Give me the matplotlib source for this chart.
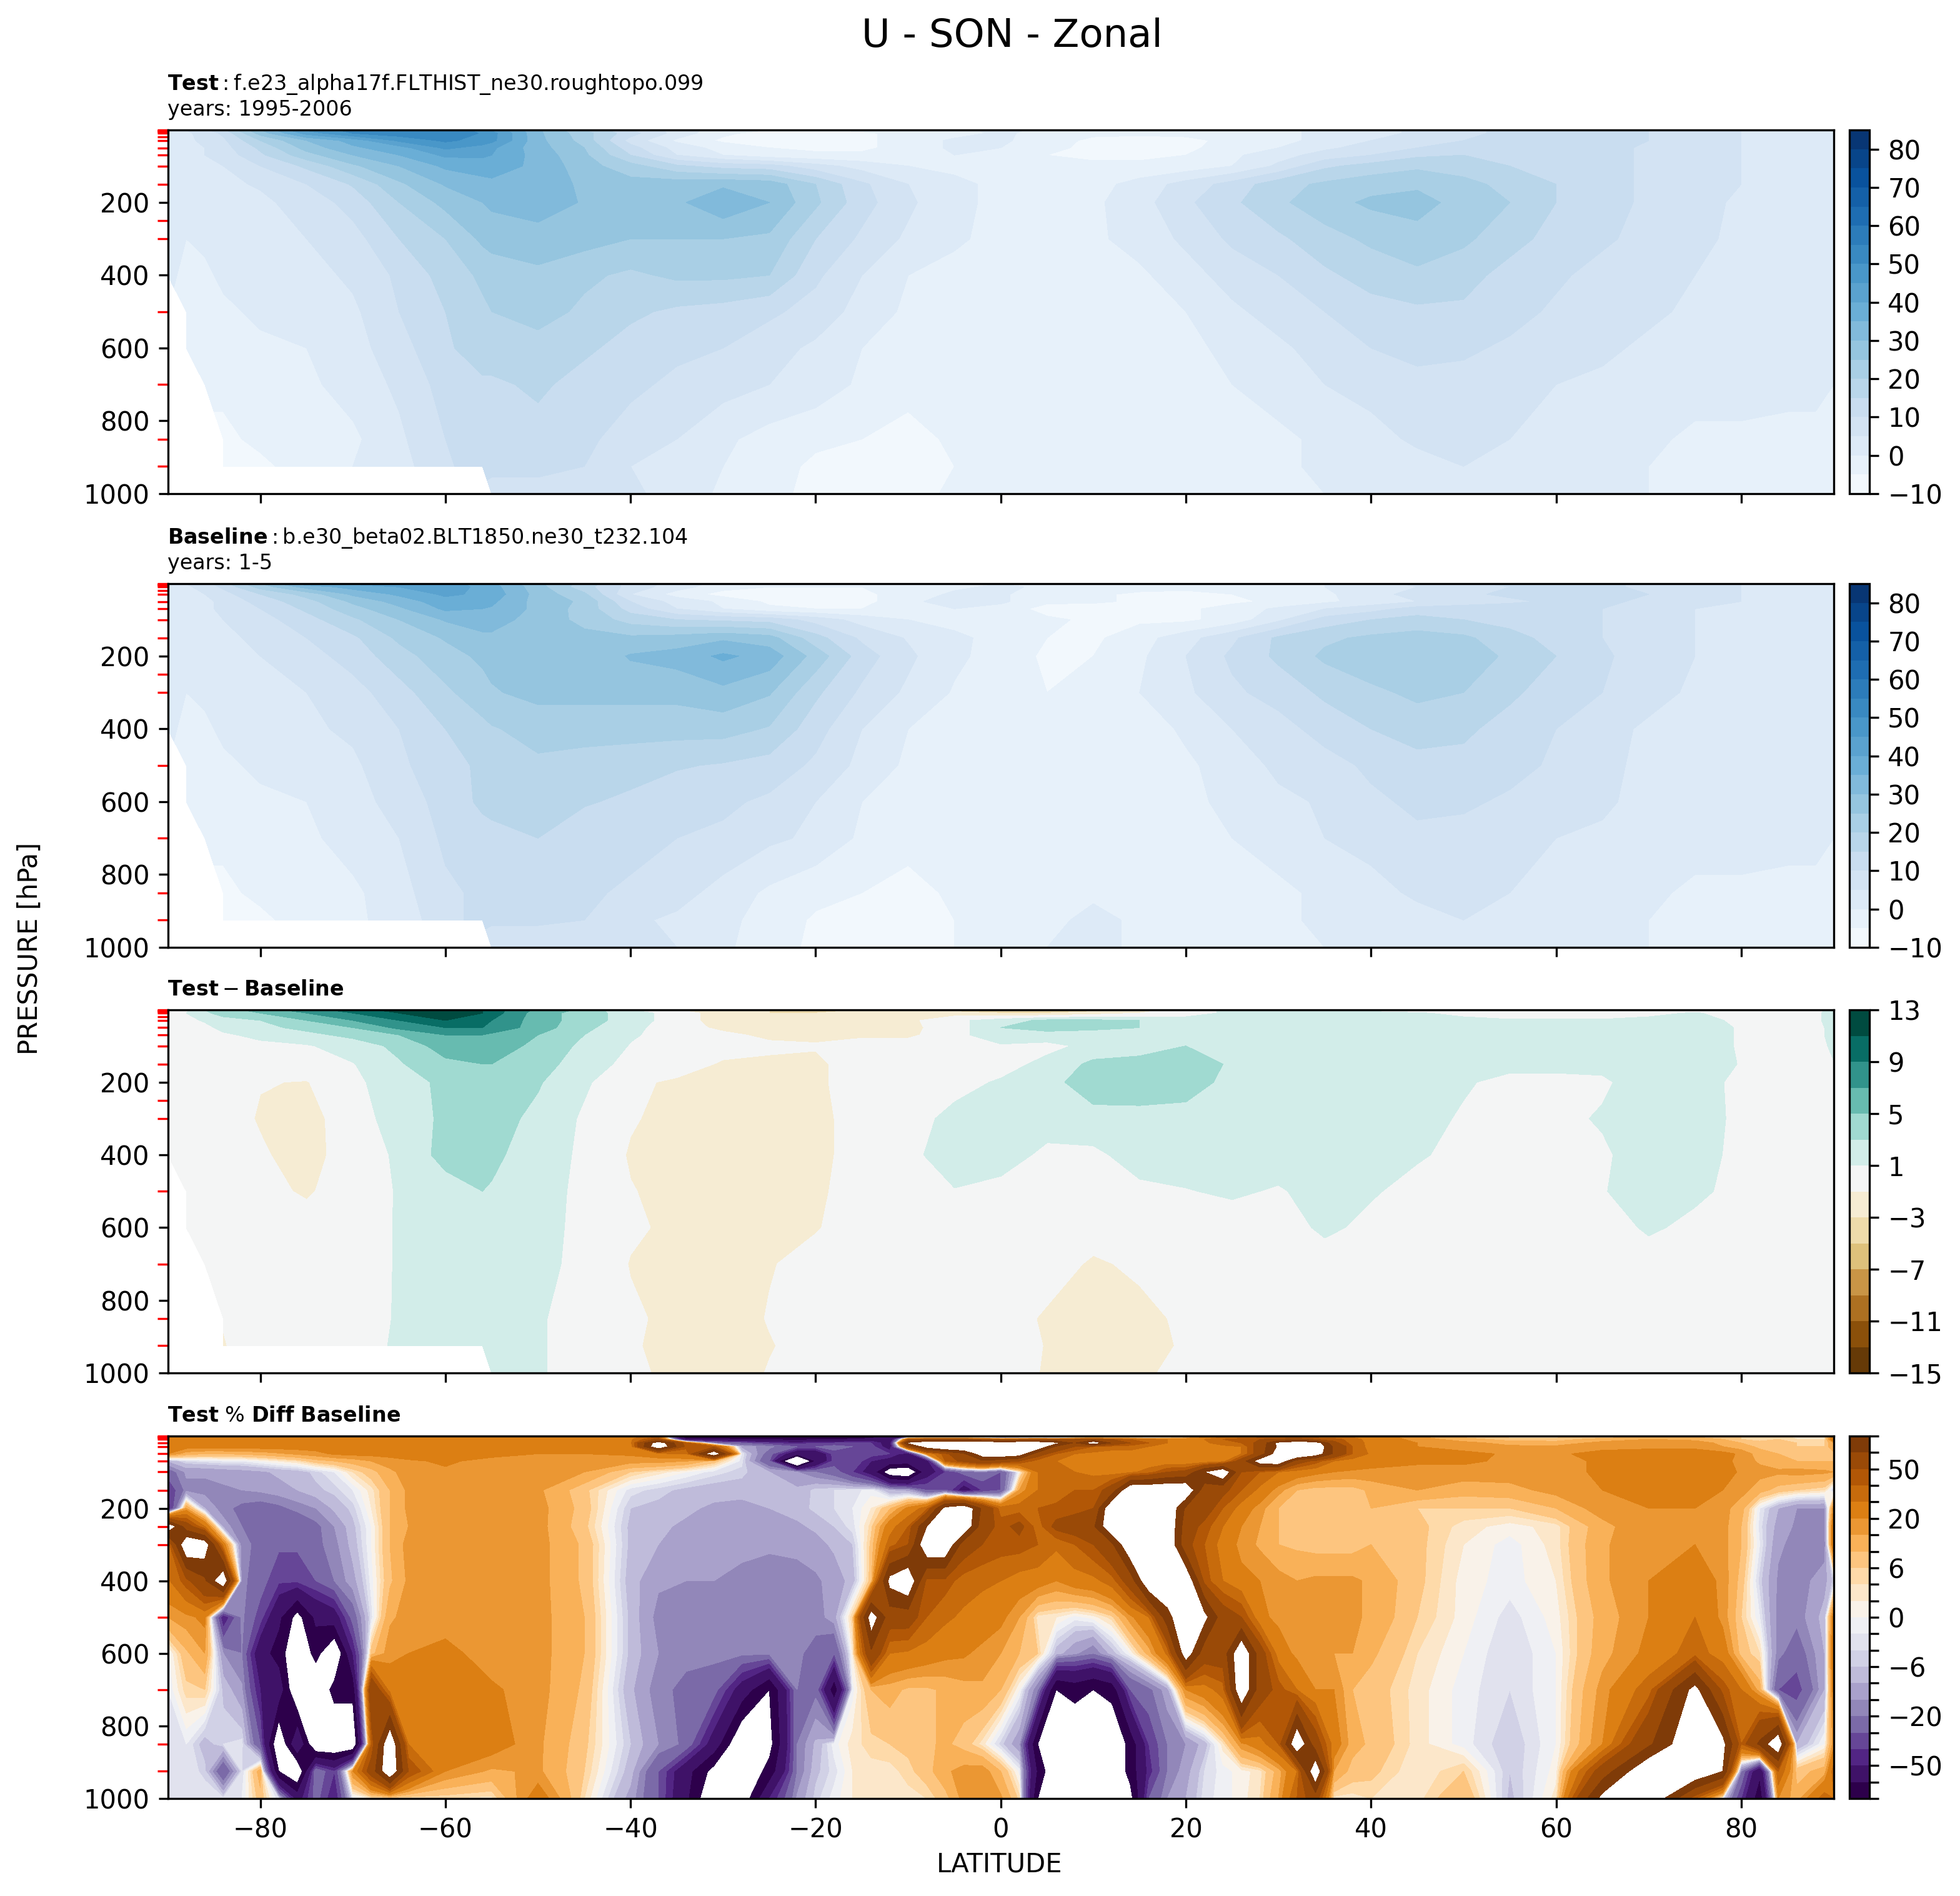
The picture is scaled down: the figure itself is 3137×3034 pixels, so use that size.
import numpy as np
import matplotlib
matplotlib.use("Agg")
import matplotlib.pyplot as plt
from matplotlib.colors import BoundaryNorm, TwoSlopeNorm, Normalize
from matplotlib.ticker import FixedLocator

lat = [-90,-88,-86,-84,-80,-75,-70,-65,-60,-56,
       -55,-50,-45,-40,-35,-30,-25,-20,-15,-10,-5,
       0,
       5,10,15,20,25,30,35,40,45,50,55,60,65,70,75,80,85,
       88,90]
lev = [1,10,30,50,70,100,150,200,300,400,500,600,700,850,925,1000]
# lowest valid pressure per latitude, below it the field is missing
surface = [450,650,750,950,950,950,950,950,950,950,
           1001,1001,1001,1001,1001,1001,1001,1001,1001,1001,1001,
           1001,
           1001,1001,1001,1001,1001,1001,1001,1001,1001,1001,1001,1001,1001,1001,1001,1001,1001,
           1001,1001]

test_u = [
 [2,5,9,14,30,46,52,54,54,48, 44,31,20,10,3,-3,-5,-5,-4,-3,-1, 1, -1,-2,-3,-3,-2,-1,1,3,6,9,11,12,12,10,8,5,3, 1,0],
 [2,4,7,11,27,42,50,53,54,49.5, 47,31,22,12,3,-4,-7,-7,-6,-3,-2, 1, -2,-4,-4,-4,-2,-1,1,3,6,9,11,12,12,10,8,5,3, 1,0],
 [2,4,6,9,20,30,37,46,51,48, 46.5,31.5,23,8,-1,-6,-7,-7,-6,-3,1, 1, -3,-6,-7,-6,-4,-1,1,5,8,10,12,13,13,10,7,5,3, 1,0],
 [2,3,5,8,16,27,34,38,46,43, 41,32,25,12,3,-2,-5,-6,-6,-3,1, 0, -4,-6,-6,-6,-3,0,4,7,10,12,13,13,12,9,7,5,3, 1,0],
 [2,3,5,7,14,23,30,35,41,41, 40,33,26,15,5,0,-3,-4,-4,-2,0, -1, -5,-6,-6,-5,-1,3,7,10,14,15,15,14,12,9,7,5,3, 2,0],
 [2,3,4,5,10,16,24,30,36,37, 37,34,27,22,16,13,12,7,3,0,-1, -2, -3,-4,-4,-3,0,6,14,17,19,17,15,14,12,9,7,5,3, 2,1],
 [2,2,3,4,5.5,10,15.5,24,30.5,33.5, 34,33,29,27,28,29,28,20,11,5,1, -1, -3,-2,2,7,12,18,21,23,24,22,18,15,12,9,7,5,3, 2,1],
 [1,2,2,3,4,7,12,20,26.5,30, 31,33,29.5,28,29,34,30,21,12,6,1, -1, -3,-1,3,9,14,19,23,26,27,23,20,15,12,9,7,4,3, 2,1],
 [1,0,1,2,3,5,8,15,20,26, 27,27.5,27,25,25,25,24,15,9,4,1, -2, -3,-1,2,6,11,14,18,21,23,21,17,13,11,8,6,4,3, 2,1],
 [1,-1,-1,1,2,3,6,11,17,21, 22,24,21,19,21,21,20,11,5,0,-2, -3, -3,-2,-1,3,7,10,14,17,19,17,13,11,8,6,5,3,2, 1,0],
 [-2,-2,-2,-1,1,3,4,10,15,19, 20,22,19,16,14,13,11,8,3,-1,-3, -4, -4,-3,-2,0,4,7,10,13,14,14,12,9,7,6,4,2,2, 1,0],
 [-3,-3,-3,-3,-1,0,3,8,14,18, 18,18,16,13,11,10,7,4,0,-3,-4, -4, -4,-4,-3,-1,1,4,7,10,11,11,9,7,6,4,3,2,2, 1,0],
 [-4,-4,-4,-4,-2,-1,2,6,12,14, 14,16,13,11,9,7,5,3,-1,-3,-4, -4, -5,-5,-4,-2,0,2,5,7,9,8,7,5,4,3,2,2,1, 1,0],
 [-6,-6,-6,-6,-4,-2,-1,4,10,12, 13,13,11,8,5,1,-2,-4,-5,-7,-4, -3, -3,-3,-3,-2,-2,-1,1,3,6,7,5,3,2,1,-1,-1,-1, -1,-1],
 [-8,-8,-8,-8,-6,-3,0,3,9,13, 12,12,10,5,2,0,-3,-6,-7,-7,-5, -3, -3,-3,-3,-3,-2,-1,1,2,3,5,3,2,1,0,-1,-2,-1, -1,-1],
 [-8,-8,-8,-8,-6,-3,0,3,5,7, 7,7,7,6,3,-1,-4,-6,-7,-7,-4, -3, -3,-3,-3,-3,-2,-1,0,1,2,3,2,2,1,0,-2,-2,-2, -1,-1],
]

base_u = [
 [2,5,8,13,25,38,41,42,42,38, 36,26,18,8,3,-2,-3,-3,-3,-2,-1, 0, -1,-2,-3,-4,-3,-2,0,3,6,9,11,12,11,9,7,5,3, 1,0],
 [2,4,7,11,22,32,37,40,42,39, 37,27,17,8,2,-3,-5,-5,-5,-3,-1, 1, -1,-2,-3,-4,-4,-3,0,2,5,8,10,11,11,9,7,5,3, 1,0],
 [2,3,5,8,15,22,31,36,41,39, 38,28,21,5,-2,-7,-7,-7,-6,-3,1, 1, -4,-4,-6,-6,-5,-3,-1,3,7,9,11,12,12,10,7,5,3, 1,0],
 [2,3,4,6,12,18,26,32,38,37, 36,28,24,10,3,-1,-6,-7,-7,-1,2, 1, -4,-4,-6,-7,-6,-4,-1,2,5,7,9,11,11,9,7,5,3, 1,0],
 [2,3,4,6,10,16,23,29,36,35, 34.5,28.5,23,13,5,0,-4,-5,-5,-2,0, -2, -7,-8,-7,-6,-3,1,5,8,12,13,13,12,10,7,5,4,3, 2,0],
 [2,3,4,5,8,13,19,25,30.5,32, 32,28,23.5,18,15,14,13,8,3,0,-1.5, -3, -4,-6,-6,-6,-3,4,12,15,17,15,13,12,10,7,5,4,3, 2,1],
 [2,2,3,4,6,10,14,21,25.5,29, 29,27,26.5,26,27,29,27,17,9,4.5,1, -1.5, -5,-6,-2,3,9,16,19,21,22,21,17,13,10,7,5,4,3, 2,1],
 [1,2,2,3,5,8,12,18,23,26, 26.5,26,26,30.5,32,36,33,23,12.5,6,1, -2, -6,-5,-1,5,11,16,21,23,24,23,19,15,11,7,5,3,3, 2,1],
 [1,0,1,2,3,5,8,13,19,23, 24.5,26.5,26.5,26.5,26.5,28.5,25.5,16,9,4,-0.5, -3, -5,-4,0,4,9,12,16,19,21,20,16,12.5,10,7,4,3,3, 2,1],
 [1,-1,-1,1,2,4,6,10,15,18.5, 19.5,22,22,22,22,22,19.5,12,5,0,-3.5, -4, -3,-3,-3,1,5,8,12,15,17.5,16,13,10,7,4,3,3,2, 1,0],
 [-2,-2,-2,-1,1,3,4,9,13,16, 17,19,18,17,15.5,14.5,13,9,3.5,-1,-4, -4.5, -4,-3,-2,-1,2.5,6,8,11,13,13.5,12,9,6,4,3,2,2, 1,0],
 [-3,-3,-3,-3,-1,0,3,7,12,16, 17,17,15.5,14,12,11,9,5,0,-3,-4, -4, -4,-4,-3,-1,1,4,5.5,9,11,11,9,7,6,3,3,2,2, 1,0],
 [-4,-4,-4,-4,-2,-1,2,5,11,13, 13,15,12,12,10,9,6,4,-1,-3,-4, -4, -5,-4,-3,-2,0,2,5,7,9,8,7,5,4,3,2,2,1, 1,0],
 [-6,-6,-6,-6,-4,-2,-1,3,9,11, 11.5,12,11,9,7,3,-1,-4,-5,-7,-4, -3, -1.5,-1,-1.5,-1.5,-2,-1,1,3,6,7,5,3,2,1,-1,-1,-1, -1,-1],
 [-8,-8,-8,-8,-6,-3,-1,2,8,12, 11,11,10,6,4,2,-3,-5.5,-7,-7,-5, -3, -1.5,1.5,-1,-2,-2,-1,1,2,3,5,3,2,1,0,-1,-2,-1, -1,-1],
 [-8,-8,-8,-8,-6,-3,-1,2,5,6, 6,6,6,7,5,1,-3,-6,-7,-7,-5, -3, 0,1.5,-1,-2,-2,-1,0,1,2,3,2,2,1,0,-2,-2,-2, -1,-1],
]

diff_u = [
 [0,.5,3,4,6,8,10,12,13,11, 10,6.5,4.5,1,-1,-2,-3,-3,-3,-3,-4, -4, -5,-4,-2,0,1.5,2,1.5,.5,0,0,0,0,0,0,0,0,0, 0,2],
 [0,1,2.5,4,5,7,9,11,12,11, 10,6,4,2,0,-2,-3,-3,-2.5,-1.5,-2, -3, -3,-2,-1,0,1.5,1.5,1.5,1.5,1.2,.5,0,0,0,.5,1.2,0,0, 0,3],
 [0,.5,1.2,2,3,5,7,9,11,10, 9,6,4,2,0,-2,-2,-2,-2,-1.5,.5, 2, 3.5,3.5,3,2,2,2,2,2,1.5,1.5,1.2,1.2,1.2,1.5,1.5,.7,0, 0,3],
 [0,0,.5,1.5,2.5,3.5,5,7.5,9,9, 8.5,6,3.5,1.5,0,-1.5,-1.5,-1.5,-1.5,-1.5,0, 3, 4,3.5,3,2,2,2,2,2,2,2,2,2,2,2,2,.8,0, 0,2],
 [0,0,.5,.7,1.5,2.5,3.5,5,7,7, 6.5,5,3,1.2,.3,-.5,-1.5,-1.5,-1.5,-1.5,.5, 2, 2,2,2,2,2,2,2,2,2,2,2,2,2,2,2,.8,0, 0,2],
 [0,0,0,.2,.5,.8,2,3.5,6,6, 6,4.5,2.5,.9,0,0,-.5,-.8,.2,.2,.5, .8, .5,1.5,2,3,2.5,2,2,2,2,2,2,2,2,2,2,.8,0, 0,1.5],
 [0,0,0,0,0,.2,.9,2.8,4.5,5, 5,4,1.8,.5,.2,-1.3,-1.5,-1.5,.3,.2,.2, .3, 1.5,3.5,3.8,3.8,2.8,2,2,2,2,1.5,1.5,1.5,1.5,2,2,.9,0, 0,.9],
 [0,0,0,0,-.9,-1.1,.6,2,3.5,3.7, 3.7,3.2,1.3,-.5,-1.4,-1.5,-1.5,-1.5,.3,.3,.4, 1.2, 2.5,3.8,3.9,3.6,2.6,2,2,2,2,1.2,.5,.5,.7,2,1.5,.7,0, 0,.5],
 [0,0,0,0,-1.2,-2,.5,1.5,3.5,3.8, 3.8,2.5,.7,-.8,-1.7,-1.9,-1.9,-1.8,.2,.3,1.5, 2, 2,2.5,2.5,2.5,2,2,2,2,1.6,.8,.5,.5,1.2,2,2,.5,0, 0,0],
 [0,0,0,0,-.7,-2,.3,1.2,3.8,3.8, 3.5,1.8,.7,-1.2,-1.7,-1.8,-1.9,-1.8,.2,.5,2, 2, .5,.5,2,2,2,2,2,1.6,1.2,.5,.5,.5,.7,2,2,.3,0, 0,0],
 [0,0,-.1,-.2,-.3,-1.3,.3,1.1,2,3, 2.8,1.5,.7,-.9,-1.6,-1.8,-1.9,-1.4,0,.3,.9, .3, .3,.3,.5,.9,1.3,.8,1.8,1.2,.4,.2,.2,.5,.9,1.8,1.4,.4,0, 0,0],
 [0,0,0,0,0,0,.4,1.1,1.5,1.5, 1.5,1.4,.7,-.7,-1.4,-1.6,-1.8,-1.1,-.3,0,0, 0, 0,0,0,0,0,0,1.4,.5,0,0,0,0,0,1.3,.5,0,0, 0,0],
 [0,0,0,0,0,0,.4,1.1,1.4,1.4, 1.4,1.4,.6,-1.1,-1.4,-1.6,-1.1,-.5,-.2,0,0, 0, 0,-1.3,-.6,-.1,0,0,0,0,0,0,0,0,0,0,0,0,0, 0,0],
 [0,0,0,-.9,-.3,0,.5,1.1,1.4,1.4, 1.4,1.2,.2,-.7,-1.5,-1.8,-.9,-.3,0,0,0, 0, -1.3,-2,-1.6,-.6,0,0,0,0,0,0,0,0,0,0,0,0,0, 0,0],
 [0,0,0,-1.1,-.1,0,.7,1.1,1.2,1.2, 1.2,1.2,.2,-.8,-1.6,-1.8,-1.1,-.4,0,0,0, 0, -1.1,-1.7,-1.6,-.8,0,0,0,0,0,0,0,0,0,0,0,0,0, 0,0],
 [0,0,0,0,0,0,0,0,0,0, 1.3,1.2,.2,-.6,-1.5,-1.8,-.9,-.3,0,0,0, 0, -1.2,-1.7,-1.3,-.5,0,0,0,0,0,0,0,0,0,0,0,0,0, 0,0],
]

pct_lat = [-90,-88,-86,-84,-82,-80,-78,-76,-74,-72,-70,-68,-66,-64,
           -60,-55,-50,-45,-40,-37,-34,-31,-28,-25,-22,-20,-18,-16,-14,-12,-10,-8,-6,-4,-2,
           0,
           2,4,6,8,10,12,14,16,18,20,22,24,26,28,30,32,34,36,38,40,
           45,50,55,60,65,70,75,
           78,80,82,84,86,89,90]
pct_lev = [1,10,20,30,50,70,100,150,200,250,300,400,500,600,700,850,925,1000]
pct_diff = [
 [25,25,25,25,25,25,25,25,25,25,25,25,25,25,
  25,25,25,25,27,35,-110,-120,-120,-120,-120,-120,-120,-120,-110,-60,-50,-60,-60,-60,-60, -70,
  -70,-70,-70,-60,-50,-50,-40,-40,-30,-15,10,25,28,28,28,28,28,27,26,25, 15,8,3,3,6,8,8, 10,6,5,5,3,3,25],
 [25,25,25,25,25,25,25,25,25,25,25,25,25,25,
  25,25,25,26,28,55,-70,-70,-75,-80,-80,-80,-80,-70,-60,-70,45,60,60,60,50, 40,
  45,50,45,55,60,50,40,35,30,30,30,40,45,50,55,60,50,45,35,25, 18,12,8,8,12,15,14, 10,6,5,6,4,4,30],
 [25,25,25,25,25,25,25,25,25,25,25,25,25,25,
  24,24,24,25,27,120,40,-20,-30,-40,-45,-40,-40,-35,-40,-60,110,130,130,130,130, 130,
  130,130,110,70,130,70,50,40,30,28,28,35,40,55,110,130,120,55,35,27, 20,17,13,12,17,18,17, 14,10,7,8,6,6,15],
 [23,23,23,23,23,23,23,23,23,23,23,23,23,23,
  23,23,23,23,23,130,45,45,-12,-18,-30,-30,-25,-30,-35,-60,60,120,140,140,140, 140,
  140,130,70,50,40,35,35,30,27,27,27,27,30,60,105,130,130,70,40,25, 20,17,16,16,18,18,18, 15,12,9,9,6,6,15],
 [20,12,10,10,11,12,14,16,18,21,22,22,23,24,
  25,22,20,20,21,24,30,130,-2,-25,-70,-70,-35,-30,-35,-40,-60,20,45,70,120, 130,
  120,60,40,30,27,25,25,23,23,22,22,23,30,60,120,150,120,70,40,28, 23,22,19,19,22,24,24, 22,19,12,10,8,8,8],
 [-10,-4,-3,-2,-2,0,2,4,8,10,12,15,17,19,
  21,18,17,17,17,17,15,8,-3,-30,-170,-75,-35,-30,-50,-60,-60,-60,40,55,70, 60,
  50,35,30,27,25,24,24,22,22,20,20,25,60,120,130,60,45,30,25,22, 21,21,19,18,21,24,24, 22,18,14,12,10,10,10],
 [-25,-14,-14,-13,-12,-11,-9,-8,-5,-2,4,8,14,17,
  19,17,17,15,6,3,0,-3,-5,-10,-15,-20,-25,-40,-60,-120,-130,-60,-40,-25,-20, -30,
  0,30,35,30,27,25,27,35,50,55,100,130,50,40,30,25,22,20,19,19, 18,18,18,18,21,26,25, 23,19,17,16,17,16,15],
 [-40,-17,-17,-16,-15,-14,-12,-10,-7,-5,-2,3,10,16,
  18,17,16,7,-3,-5,-7,-8,-8,-9,-9,-5,-4,-3,-1,-10,-12,-30,-30,-60,-40, -30,
  15,30,35,40,40,60,130,130,130,130,60,55,40,27,17,10,8,8,8,11, 15,12,13,17,20,23,22, 20,17,12,8,6,4,-5],
 [-50,15,-10,-18,-22,-24,-22,-18,-15,-9,-5,2,10,16,
  18,18,17,8,-6,-7,-9,-11,-12,-10,-8,-5,-4,-2,2,9,22,35,110,130,70, 35,
  35,40,42,45,50,130,130,130,130,70,60,40,25,17,10,8,8,7,9,10, 6,6,6,10,18,20,20, 17,12,-2,-10,-15,-15,20],
 [130,60,30,-12,-20,-22,-25,-28,-22,-15,-7,0,10,15,
  20,17,17,7,-7,-9,-11,-12,-14,-14,-11,-9,-6,-3,5,25,40,100,130,130,60, 45,
  55,35,55,60,70,130,130,130,130,60,45,30,20,15,10,9,7,7,8,10, 7,3,1,3,13,20,18, 17,10,-3,-12,-16,-16,30],
 [30,130,120,25,-18,-22,-28,-28,-22,-17,-8,0,10,17,
  18,17,17,9,-7,-10,-12,-13,-14,-14,-13,-12,-9,-6,7,35,50,130,130,60,50, 45,
  45,40,32,40,50,70,130,130,130,55,40,25,18,14,10,9,8,8,8,10, 7,2,-1,3,14,20,20, 17,10,-2,-14,-17,-18,30],
 [28,45,70,130,-18,-25,-38,-38,-30,-20,-12,-1,9,16,
  17,17,17,9,-8,-14,-15,-15,-16,-18,-18,-16,-13,-8,8,110,130,45,45,35,32, 30,
  25,24,20,25,27,35,60,130,130,130,45,30,22,20,17,15,16,16,16,14, 7,1,-1,2,14,20,26, 18,8,-5,-16,-18,-12,-5],
 [15,18,22,-50,-18,-35,-70,-110,-70,-60,-25,-3,14,17,
  17,17,17,10,-7,-17,-18,-18,-18,-18,-19,-18,-12,6,120,60,60,40,32,28,25, 22,
  15,3,2,-1,1,5,18,30,90,130,110,60,50,22,18,17,17,17,16,14, 6,1,-3,1,12,20,30, 18,6,-2,-17,-18,-8,25],
 [-1,9,15,-15,-20,-65,-85,-130,-90,-130,-50,8,18,20,
  22,17,17,10,-7,-15,-18,-18,-18,-18,-19,-22,-30,2,70,30,28,25,22,21,18, 15,
  10,6,-8,-14,-20,-8,0,12,32,120,60,60,130,60,25,18,17,15,15,11, 4,0,-4,0,13,22,35, 25,8,4,-18,-25,-10,30],
 [-2,5,6,-7,-14,-50,-60,-130,-130,-90,-90,70,25,22,
  22,21,17,9,-9,-18,-22,-25,-60,-100,-20,-22,-90,-1,10,12,9,9,11,13,14, 10,
  0,-20,-100,-90,-100,-90,-30,-22,-12,20,25,35,130,60,45,30,20,20,10,8, 3,-1,-4,0,17,35,110, 45,30,12,-30,-35,-10,25],
 [-2,-2,-8,-4,-3,-30,-130,-50,-130,-130,-130,40,130,30,
  28,24,16,7,-6,-15,-22,-60,-130,-110,-20,-9,-1,3,5,6,7,9,11,8,3, -5,
  -14,-100,-130,-130,-130,-130,-90,-40,-20,-15,-8,3,18,25,40,130,60,25,12,9, 3,-1,-6,0,20,70,130, 110,40,80,130,-10,0,18],
 [-2,-2,-5,-30,-4,13,-100,-130,-20,-40,20,60,130,50,
  20,14,16,6,-8,-30,-65,-110,-130,-90,-20,-7,-3,2,3,3,5,8,14,17,18, 10,
  -1,-80,-130,-130,-130,-130,-90,-45,-20,-12,-4,-1,1,3,12,30,130,15,8,7, 2,6,-6,1,60,130,130, 100,-20,-70,40,8,12,35],
 [-2,-2,-2,-3,-2,8,-4,-60,-25,-50,-2,2,2,3,
  4,3,25,4,-12,-30,-70,-130,-120,-50,-14,-5,-1,2,4,3,3,4,8,17,18, 16,
  5,-100,-130,-130,-130,-130,-110,-30,-15,-10,-3,-1,1,4,15,40,60,3,3,4, 3,10,-7,3,110,130,40, -3,-40,-90,20,12,35,30],
]

u_levels = list(range(-10, 90, 5))
u_ticks = list(range(-10, 90, 10))
diff_levels = list(range(-15, 15, 2))
diff_ticks = list(range(-15, 15, 4))
pct_levels = [-100,-75,-50,-40,-30,-20,-15,-10,-6,-4,-2,0,2,4,6,10,15,20,30,40,50,75,100]
red_ticks = [1,2,3,5,7,10,20,30,50,70,100,150,250,300,500,700,850,925]

W, H = 3137, 3034
fig = plt.figure(figsize=(W/300, H/300), dpi=300)
plt.rcParams['mathtext.default'] = 'regular'

# pixel rows of the four panels
tops = [208, 934, 1616, 2298]
bottoms = [790, 1516, 2197, 2878]
titles = [r"$\mathbf{Test}:$f.e23_alpha17f.FLTHIST_ne30.roughtopo.099" + "\nyears: 1995-2006",
          r"$\mathbf{Baseline}:$b.e30_beta02.BLT1850.ne30_t232.104" + "\nyears: 1-5",
          r"$\mathbf{Test} - \mathbf{Baseline}$",
          r"$\mathbf{Test}$ % $\mathbf{Diff}$ $\mathbf{Baseline}$"]

lat2d, lev2d = np.meshgrid(lat, lev)
mask = lev2d > np.array(surface)[None, :]

fields = [(lat, lev, np.where(mask, np.nan, np.array(test_u, float)), u_levels, "Blues", u_ticks,
           Normalize(-10, 85)),
          (lat, lev, np.where(mask, np.nan, np.array(base_u, float)), u_levels, "Blues", u_ticks,
           Normalize(-10, 85)),
          (lat, lev, np.where(mask, np.nan, np.array(diff_u, float)), diff_levels, "BrBG", diff_ticks,
           TwoSlopeNorm(vcenter=0, vmin=-15, vmax=13)),
          (pct_lat, pct_lev, np.array(pct_diff, float), pct_levels, "PuOr_r", pct_levels,
           BoundaryNorm(pct_levels, 256))]

for i, (x, y, z, levels, cmap, ticks, norm) in enumerate(fields):
    ax = fig.add_axes([268.5/W, 1-bottoms[i]/H, (2935-268.5)/W, (bottoms[i]-tops[i])/H])
    cf = ax.contourf(x, y, z, levels=levels, cmap=cmap, norm=norm)
    ax.set_ylim(1000, 1)
    ax.set_xlim(-90, 90)
    ax.set_yticks([200, 400, 600, 800, 1000])
    ax.yaxis.set_minor_locator(FixedLocator(red_ticks))
    ax.tick_params(axis='y', which='minor', color='red', length=4, width=0.8)
    ax.tick_params(labelsize=10)
    ax.set_xticks([-80, -60, -40, -20, 0, 20, 40, 60, 80])
    if i < 3:
        ax.tick_params(axis='x', labelbottom=False)
    ax.set_title(titles[i], loc='left', fontsize=8, pad=5.5, linespacing=1.2)

    cax = fig.add_axes([2960/W, 1-bottoms[i]/H, 32/W, (bottoms[i]-tops[i])/H])
    cb = fig.colorbar(cf, cax=cax, ticks=ticks)
    cb.ax.minorticks_off()
    cb.ax.tick_params(labelsize=10)
    if i == 3:
        labels = [str(v) if v in (-50, -20, -6, 0, 6, 20, 50) else "" for v in levels]
        cb.ax.set_yticklabels([s.replace("-", "\u2212") for s in labels])

fig.text(1620/W, 1-58/H, "U - SON - Zonal", fontsize=15, ha='center', va='center')
fig.text(1600/W, 1-2984/H, "LATITUDE", fontsize=10, ha='center', va='center')
fig.text(48/W, 1-1518/H, "PRESSURE [hPa]", fontsize=10, rotation=90, ha='center', va='center')

fig.savefig("out.png", dpi=300)
